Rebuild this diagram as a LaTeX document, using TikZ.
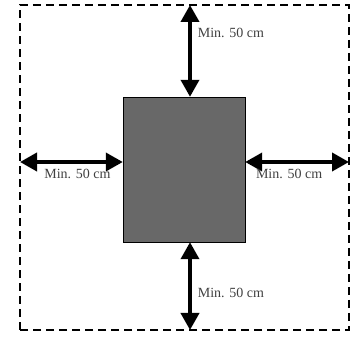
\documentclass[tikz,border=0pt]{standalone}
\usepackage{fontspec}
\setmainfont{Liberation Serif}
\usetikzlibrary{arrows.meta, positioning}
\definecolor{roomgray}{RGB}{104,104,104}

\begin{document}
\begin{tikzpicture}[x=1pt, y=1pt,
        room/.style={draw=black, fill=roomgray, minimum width=122pt, minimum height=145pt, inner sep=0pt},
        gap/.style={{Triangle[length=17pt,width=18pt]}-{Triangle[length=17pt,width=18pt]}, line width=3.8pt},
        border/.style={dash pattern=on 8pt off 5pt, line width=1.8pt},
        lbl/.style={font=\fontsize{14}{16}\selectfont, inner sep=1pt, text=black!75}
        ]
        \useasboundingbox (0,0) rectangle (357,338);

        % clearance zone
        \draw[border] (20,8) rectangle (349,333);

        \node[room] (room) at (184,168.5) {};

        \coordinate (top) at (190,333);
        \coordinate (bottom) at (190,8);
        \coordinate (left) at (20,176);
        \coordinate (right) at (349,176);

        \draw[gap] (top) -- node[lbl, pos=0.3, right=5pt] {Min. 50 cm} (top |- room.north);
        \draw[gap] (bottom) -- node[lbl, pos=0.42, right=5pt] {Min. 50 cm} (bottom |- room.south);
        \draw[gap] (left) -- node[lbl, below=4pt, xshift=6pt] {Min. 50 cm} (left -| room.west);
        \draw[gap] (right) -- node[lbl, below=4pt, xshift=-8pt] {Min. 50 cm} (right -| room.east);

    \end{tikzpicture}
\end{document}
